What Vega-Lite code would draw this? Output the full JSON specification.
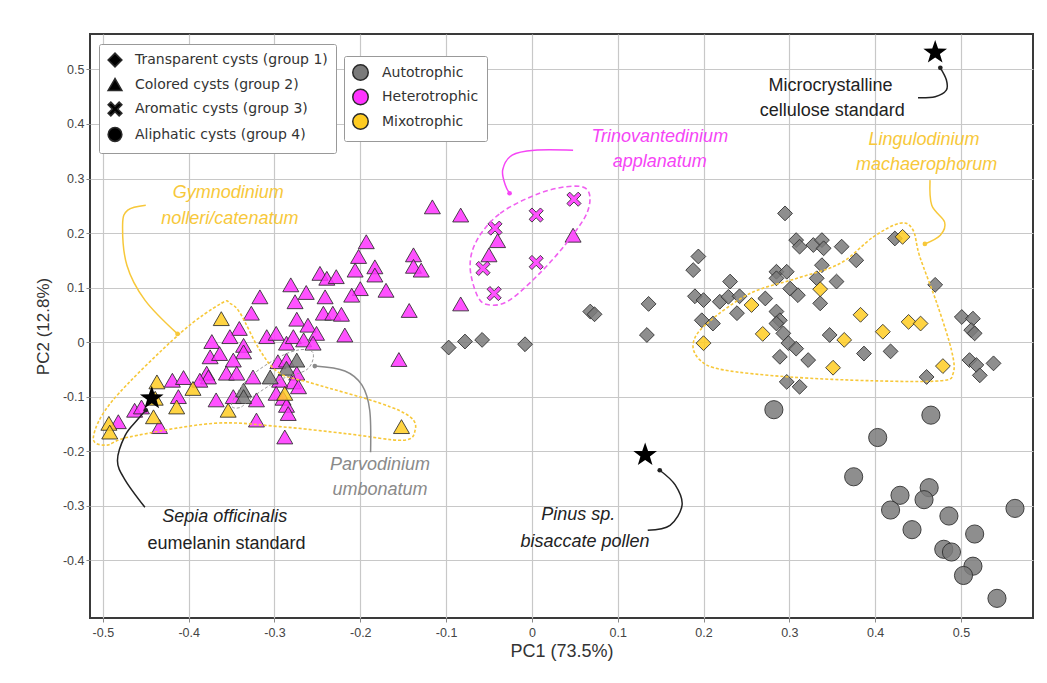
{
  "$schema": "https://vega.github.io/schema/vega-lite/v6.json",
  "width": 943,
  "height": 584,
  "autosize": {"type": "none"},
  "padding": {"left": 90, "top": 34, "right": 14, "bottom": 65},
  "background": "white",
  "config": {
    "view": {"stroke": "#3a3a3a", "strokeWidth": 2},
    "axis": {
      "grid": true, "gridColor": "#c8c8c8", "gridWidth": 1.2, "domain": false,
      "tickColor": "#888", "tickSize": 4, "labelColor": "#444", "labelFontSize": 12.5,
      "labelFont": "Liberation Sans", "titleFont": "Liberation Sans", "titleFontSize": 17,
      "titleFontWeight": "normal", "titleColor": "#333"
    }
  },
  "datasets": {
    "pts": [
      {"x": -0.097, "y": -0.010, "g": "1", "t": "Autotrophic"},
      {"x": -0.078, "y": 0.001, "g": "1", "t": "Autotrophic"},
      {"x": -0.058, "y": 0.004, "g": "1", "t": "Autotrophic"},
      {"x": -0.008, "y": -0.004, "g": "1", "t": "Autotrophic"},
      {"x": 0.068, "y": 0.056, "g": "1", "t": "Autotrophic"},
      {"x": 0.073, "y": 0.051, "g": "1", "t": "Autotrophic"},
      {"x": 0.136, "y": 0.070, "g": "1", "t": "Autotrophic"},
      {"x": 0.134, "y": 0.013, "g": "1", "t": "Autotrophic"},
      {"x": 0.194, "y": 0.157, "g": "1", "t": "Autotrophic"},
      {"x": 0.188, "y": 0.132, "g": "1", "t": "Autotrophic"},
      {"x": 0.190, "y": 0.084, "g": "1", "t": "Autotrophic"},
      {"x": 0.200, "y": 0.077, "g": "1", "t": "Autotrophic"},
      {"x": 0.198, "y": 0.040, "g": "1", "t": "Autotrophic"},
      {"x": 0.211, "y": 0.034, "g": "1", "t": "Autotrophic"},
      {"x": 0.219, "y": 0.074, "g": "1", "t": "Autotrophic"},
      {"x": 0.231, "y": 0.111, "g": "1", "t": "Autotrophic"},
      {"x": 0.229, "y": 0.083, "g": "1", "t": "Autotrophic"},
      {"x": 0.242, "y": 0.084, "g": "1", "t": "Autotrophic"},
      {"x": 0.239, "y": 0.053, "g": "1", "t": "Autotrophic"},
      {"x": 0.272, "y": 0.080, "g": "1", "t": "Autotrophic"},
      {"x": 0.295, "y": 0.236, "g": "1", "t": "Autotrophic"},
      {"x": 0.308, "y": 0.187, "g": "1", "t": "Autotrophic"},
      {"x": 0.312, "y": 0.175, "g": "1", "t": "Autotrophic"},
      {"x": 0.328, "y": 0.178, "g": "1", "t": "Autotrophic"},
      {"x": 0.338, "y": 0.187, "g": "1", "t": "Autotrophic"},
      {"x": 0.340, "y": 0.172, "g": "1", "t": "Autotrophic"},
      {"x": 0.361, "y": 0.175, "g": "1", "t": "Autotrophic"},
      {"x": 0.378, "y": 0.150, "g": "1", "t": "Autotrophic"},
      {"x": 0.285, "y": 0.129, "g": "1", "t": "Autotrophic"},
      {"x": 0.297, "y": 0.129, "g": "1", "t": "Autotrophic"},
      {"x": 0.285, "y": 0.117, "g": "1", "t": "Autotrophic"},
      {"x": 0.338, "y": 0.141, "g": "1", "t": "Autotrophic"},
      {"x": 0.332, "y": 0.117, "g": "1", "t": "Autotrophic"},
      {"x": 0.355, "y": 0.111, "g": "1", "t": "Autotrophic"},
      {"x": 0.301, "y": 0.098, "g": "1", "t": "Autotrophic"},
      {"x": 0.310, "y": 0.086, "g": "1", "t": "Autotrophic"},
      {"x": 0.336, "y": 0.071, "g": "1", "t": "Autotrophic"},
      {"x": 0.285, "y": 0.056, "g": "1", "t": "Autotrophic"},
      {"x": 0.289, "y": 0.040, "g": "1", "t": "Autotrophic"},
      {"x": 0.285, "y": 0.034, "g": "1", "t": "Autotrophic"},
      {"x": 0.293, "y": 0.016, "g": "1", "t": "Autotrophic"},
      {"x": 0.299, "y": -0.002, "g": "1", "t": "Autotrophic"},
      {"x": 0.308, "y": -0.012, "g": "1", "t": "Autotrophic"},
      {"x": 0.289, "y": -0.027, "g": "1", "t": "Autotrophic"},
      {"x": 0.322, "y": -0.033, "g": "1", "t": "Autotrophic"},
      {"x": 0.297, "y": -0.073, "g": "1", "t": "Autotrophic"},
      {"x": 0.312, "y": -0.082, "g": "1", "t": "Autotrophic"},
      {"x": 0.347, "y": 0.013, "g": "1", "t": "Autotrophic"},
      {"x": 0.387, "y": -0.021, "g": "1", "t": "Autotrophic"},
      {"x": 0.418, "y": -0.017, "g": "1", "t": "Autotrophic"},
      {"x": 0.423, "y": 0.190, "g": "1", "t": "Autotrophic"},
      {"x": 0.460, "y": -0.064, "g": "1", "t": "Autotrophic"},
      {"x": 0.470, "y": 0.105, "g": "1", "t": "Autotrophic"},
      {"x": 0.501, "y": 0.046, "g": "1", "t": "Autotrophic"},
      {"x": 0.514, "y": 0.043, "g": "1", "t": "Autotrophic"},
      {"x": 0.512, "y": 0.022, "g": "1", "t": "Autotrophic"},
      {"x": 0.516, "y": 0.016, "g": "1", "t": "Autotrophic"},
      {"x": 0.510, "y": -0.033, "g": "1", "t": "Autotrophic"},
      {"x": 0.518, "y": -0.042, "g": "1", "t": "Autotrophic"},
      {"x": 0.522, "y": -0.061, "g": "1", "t": "Autotrophic"},
      {"x": 0.538, "y": -0.039, "g": "1", "t": "Autotrophic"},
      {"x": 0.200, "y": -0.002, "g": "1", "t": "Mixotrophic"},
      {"x": 0.256, "y": 0.068, "g": "1", "t": "Mixotrophic"},
      {"x": 0.269, "y": 0.015, "g": "1", "t": "Mixotrophic"},
      {"x": 0.336, "y": 0.097, "g": "1", "t": "Mixotrophic"},
      {"x": 0.364, "y": 0.004, "g": "1", "t": "Mixotrophic"},
      {"x": 0.351, "y": -0.047, "g": "1", "t": "Mixotrophic"},
      {"x": 0.383, "y": 0.050, "g": "1", "t": "Mixotrophic"},
      {"x": 0.409, "y": 0.019, "g": "1", "t": "Mixotrophic"},
      {"x": 0.439, "y": 0.037, "g": "1", "t": "Mixotrophic"},
      {"x": 0.453, "y": 0.034, "g": "1", "t": "Mixotrophic"},
      {"x": 0.479, "y": -0.044, "g": "1", "t": "Mixotrophic"},
      {"x": 0.432, "y": 0.193, "g": "1", "t": "Mixotrophic"},
      {"x": 0.282, "y": -0.124, "g": "4", "t": "Autotrophic"},
      {"x": 0.465, "y": -0.134, "g": "4", "t": "Autotrophic"},
      {"x": 0.403, "y": -0.175, "g": "4", "t": "Autotrophic"},
      {"x": 0.375, "y": -0.247, "g": "4", "t": "Autotrophic"},
      {"x": 0.463, "y": -0.267, "g": "4", "t": "Autotrophic"},
      {"x": 0.457, "y": -0.289, "g": "4", "t": "Autotrophic"},
      {"x": 0.429, "y": -0.281, "g": "4", "t": "Autotrophic"},
      {"x": 0.418, "y": -0.308, "g": "4", "t": "Autotrophic"},
      {"x": 0.486, "y": -0.319, "g": "4", "t": "Autotrophic"},
      {"x": 0.563, "y": -0.305, "g": "4", "t": "Autotrophic"},
      {"x": 0.443, "y": -0.344, "g": "4", "t": "Autotrophic"},
      {"x": 0.516, "y": -0.352, "g": "4", "t": "Autotrophic"},
      {"x": 0.480, "y": -0.380, "g": "4", "t": "Autotrophic"},
      {"x": 0.489, "y": -0.385, "g": "4", "t": "Autotrophic"},
      {"x": 0.514, "y": -0.411, "g": "4", "t": "Autotrophic"},
      {"x": 0.503, "y": -0.428, "g": "4", "t": "Autotrophic"},
      {"x": 0.542, "y": -0.470, "g": "4", "t": "Autotrophic"},
      {"x": -0.116, "y": 0.248, "g": "2", "t": "Heterotrophic"},
      {"x": -0.083, "y": 0.233, "g": "2", "t": "Heterotrophic"},
      {"x": -0.040, "y": 0.186, "g": "2", "t": "Heterotrophic"},
      {"x": -0.050, "y": 0.160, "g": "2", "t": "Heterotrophic"},
      {"x": 0.048, "y": 0.196, "g": "2", "t": "Heterotrophic"},
      {"x": -0.138, "y": 0.160, "g": "2", "t": "Heterotrophic"},
      {"x": -0.138, "y": 0.139, "g": "2", "t": "Heterotrophic"},
      {"x": -0.129, "y": 0.132, "g": "2", "t": "Heterotrophic"},
      {"x": -0.083, "y": 0.070, "g": "2", "t": "Heterotrophic"},
      {"x": -0.143, "y": 0.058, "g": "2", "t": "Heterotrophic"},
      {"x": -0.155, "y": -0.032, "g": "2", "t": "Heterotrophic"},
      {"x": -0.193, "y": 0.184, "g": "2", "t": "Heterotrophic"},
      {"x": -0.202, "y": 0.157, "g": "2", "t": "Heterotrophic"},
      {"x": -0.206, "y": 0.132, "g": "2", "t": "Heterotrophic"},
      {"x": -0.183, "y": 0.138, "g": "2", "t": "Heterotrophic"},
      {"x": -0.183, "y": 0.123, "g": "2", "t": "Heterotrophic"},
      {"x": -0.170, "y": 0.095, "g": "2", "t": "Heterotrophic"},
      {"x": -0.200, "y": 0.098, "g": "2", "t": "Heterotrophic"},
      {"x": -0.210, "y": 0.086, "g": "2", "t": "Heterotrophic"},
      {"x": -0.247, "y": 0.126, "g": "2", "t": "Heterotrophic"},
      {"x": -0.239, "y": 0.117, "g": "2", "t": "Heterotrophic"},
      {"x": -0.228, "y": 0.120, "g": "2", "t": "Heterotrophic"},
      {"x": -0.281, "y": 0.105, "g": "2", "t": "Heterotrophic"},
      {"x": -0.263, "y": 0.091, "g": "2", "t": "Heterotrophic"},
      {"x": -0.241, "y": 0.083, "g": "2", "t": "Heterotrophic"},
      {"x": -0.276, "y": 0.074, "g": "2", "t": "Heterotrophic"},
      {"x": -0.317, "y": 0.083, "g": "2", "t": "Heterotrophic"},
      {"x": -0.327, "y": 0.053, "g": "2", "t": "Heterotrophic"},
      {"x": -0.243, "y": 0.053, "g": "2", "t": "Heterotrophic"},
      {"x": -0.232, "y": 0.053, "g": "2", "t": "Heterotrophic"},
      {"x": -0.222, "y": 0.051, "g": "2", "t": "Heterotrophic"},
      {"x": -0.274, "y": 0.042, "g": "2", "t": "Heterotrophic"},
      {"x": -0.261, "y": 0.031, "g": "2", "t": "Heterotrophic"},
      {"x": -0.251, "y": 0.016, "g": "2", "t": "Heterotrophic"},
      {"x": -0.218, "y": 0.013, "g": "2", "t": "Heterotrophic"},
      {"x": -0.341, "y": 0.025, "g": "2", "t": "Heterotrophic"},
      {"x": -0.352, "y": 0.010, "g": "2", "t": "Heterotrophic"},
      {"x": -0.309, "y": 0.010, "g": "2", "t": "Heterotrophic"},
      {"x": -0.298, "y": 0.016, "g": "2", "t": "Heterotrophic"},
      {"x": -0.286, "y": -0.002, "g": "2", "t": "Heterotrophic"},
      {"x": -0.278, "y": 0.010, "g": "2", "t": "Heterotrophic"},
      {"x": -0.266, "y": 0.004, "g": "2", "t": "Heterotrophic"},
      {"x": -0.255, "y": -0.002, "g": "2", "t": "Heterotrophic"},
      {"x": -0.336, "y": -0.006, "g": "2", "t": "Heterotrophic"},
      {"x": -0.336, "y": -0.018, "g": "2", "t": "Heterotrophic"},
      {"x": -0.373, "y": 0.001, "g": "2", "t": "Heterotrophic"},
      {"x": -0.375, "y": -0.027, "g": "2", "t": "Heterotrophic"},
      {"x": -0.364, "y": -0.021, "g": "2", "t": "Heterotrophic"},
      {"x": -0.348, "y": -0.033, "g": "2", "t": "Heterotrophic"},
      {"x": -0.379, "y": -0.057, "g": "2", "t": "Heterotrophic"},
      {"x": -0.377, "y": -0.064, "g": "2", "t": "Heterotrophic"},
      {"x": -0.356, "y": -0.057, "g": "2", "t": "Heterotrophic"},
      {"x": -0.344, "y": -0.057, "g": "2", "t": "Heterotrophic"},
      {"x": -0.325, "y": -0.064, "g": "2", "t": "Heterotrophic"},
      {"x": -0.296, "y": -0.036, "g": "2", "t": "Heterotrophic"},
      {"x": -0.286, "y": -0.033, "g": "2", "t": "Heterotrophic"},
      {"x": -0.274, "y": -0.057, "g": "2", "t": "Heterotrophic"},
      {"x": -0.278, "y": -0.073, "g": "2", "t": "Heterotrophic"},
      {"x": -0.272, "y": -0.082, "g": "2", "t": "Heterotrophic"},
      {"x": -0.294, "y": -0.070, "g": "2", "t": "Heterotrophic"},
      {"x": -0.298, "y": -0.094, "g": "2", "t": "Heterotrophic"},
      {"x": -0.290, "y": -0.103, "g": "2", "t": "Heterotrophic"},
      {"x": -0.286, "y": -0.116, "g": "2", "t": "Heterotrophic"},
      {"x": -0.284, "y": -0.131, "g": "2", "t": "Heterotrophic"},
      {"x": -0.321, "y": -0.106, "g": "2", "t": "Heterotrophic"},
      {"x": -0.348, "y": -0.100, "g": "2", "t": "Heterotrophic"},
      {"x": -0.368, "y": -0.106, "g": "2", "t": "Heterotrophic"},
      {"x": -0.321, "y": -0.143, "g": "2", "t": "Heterotrophic"},
      {"x": -0.288, "y": -0.174, "g": "2", "t": "Heterotrophic"},
      {"x": -0.419, "y": -0.070, "g": "2", "t": "Heterotrophic"},
      {"x": -0.406, "y": -0.065, "g": "2", "t": "Heterotrophic"},
      {"x": -0.387, "y": -0.070, "g": "2", "t": "Heterotrophic"},
      {"x": -0.463, "y": -0.125, "g": "2", "t": "Heterotrophic"},
      {"x": -0.455, "y": -0.119, "g": "2", "t": "Heterotrophic"},
      {"x": -0.434, "y": -0.155, "g": "2", "t": "Heterotrophic"},
      {"x": -0.482, "y": -0.146, "g": "2", "t": "Heterotrophic"},
      {"x": -0.412, "y": -0.100, "g": "2", "t": "Heterotrophic"},
      {"x": -0.274, "y": -0.033, "g": "2", "t": "Autotrophic"},
      {"x": -0.286, "y": -0.048, "g": "2", "t": "Autotrophic"},
      {"x": -0.305, "y": -0.064, "g": "2", "t": "Autotrophic"},
      {"x": -0.336, "y": -0.088, "g": "2", "t": "Autotrophic"},
      {"x": -0.336, "y": -0.100, "g": "2", "t": "Autotrophic"},
      {"x": -0.362, "y": 0.043, "g": "2", "t": "Mixotrophic"},
      {"x": -0.437, "y": -0.073, "g": "2", "t": "Mixotrophic"},
      {"x": -0.395, "y": -0.085, "g": "2", "t": "Mixotrophic"},
      {"x": -0.414, "y": -0.119, "g": "2", "t": "Mixotrophic"},
      {"x": -0.441, "y": -0.137, "g": "2", "t": "Mixotrophic"},
      {"x": -0.439, "y": -0.103, "g": "2", "t": "Mixotrophic"},
      {"x": -0.354, "y": -0.125, "g": "2", "t": "Mixotrophic"},
      {"x": -0.288, "y": -0.094, "g": "2", "t": "Mixotrophic"},
      {"x": -0.493, "y": -0.149, "g": "2", "t": "Mixotrophic"},
      {"x": -0.492, "y": -0.165, "g": "2", "t": "Mixotrophic"},
      {"x": -0.152, "y": -0.155, "g": "2", "t": "Mixotrophic"},
      {"x": 0.049, "y": 0.262, "g": "3", "t": "Heterotrophic"},
      {"x": 0.005, "y": 0.233, "g": "3", "t": "Heterotrophic"},
      {"x": -0.043, "y": 0.209, "g": "3", "t": "Heterotrophic"},
      {"x": 0.005, "y": 0.146, "g": "3", "t": "Heterotrophic"},
      {"x": -0.057, "y": 0.135, "g": "3", "t": "Heterotrophic"},
      {"x": -0.044, "y": 0.089, "g": "3", "t": "Heterotrophic"}
    ],
    "stars": [
      {"x": 0.470, "y": 0.531, "name": "Microcrystalline cellulose standard"},
      {"x": -0.443, "y": -0.103, "name": "Sepia officinalis eumelanin standard"},
      {"x": 0.132, "y": -0.207, "name": "Pinus sp. bisaccate pollen"}
    ],
    "outl": [
      {"who": "gym", "o": 1, "x": -0.362, "y": 0.071},
      {"who": "gym", "o": 2, "x": -0.410, "y": 0.016},
      {"who": "gym", "o": 3, "x": -0.488, "y": -0.106},
      {"who": "gym", "o": 4, "x": -0.511, "y": -0.174},
      {"who": "gym", "o": 5, "x": -0.496, "y": -0.189},
      {"who": "gym", "o": 6, "x": -0.469, "y": -0.174},
      {"who": "gym", "o": 7, "x": -0.371, "y": -0.149},
      {"who": "gym", "o": 8, "x": -0.294, "y": -0.155},
      {"who": "gym", "o": 9, "x": -0.216, "y": -0.168},
      {"who": "gym", "o": 10, "x": -0.150, "y": -0.180},
      {"who": "gym", "o": 11, "x": -0.136, "y": -0.161},
      {"who": "gym", "o": 12, "x": -0.142, "y": -0.137},
      {"who": "gym", "o": 13, "x": -0.177, "y": -0.112},
      {"who": "gym", "o": 14, "x": -0.255, "y": -0.076},
      {"who": "gym", "o": 15, "x": -0.294, "y": -0.057},
      {"who": "gym", "o": 16, "x": -0.317, "y": -0.015},
      {"who": "gym", "o": 17, "x": -0.340, "y": 0.053},
      {"who": "gym", "o": 18, "x": -0.352, "y": 0.071},
      {"who": "lin", "o": 1, "x": 0.188, "y": -0.002},
      {"who": "lin", "o": 2, "x": 0.204, "y": 0.034},
      {"who": "lin", "o": 3, "x": 0.254, "y": 0.089},
      {"who": "lin", "o": 4, "x": 0.309, "y": 0.117},
      {"who": "lin", "o": 5, "x": 0.359, "y": 0.144},
      {"who": "lin", "o": 6, "x": 0.398, "y": 0.193},
      {"who": "lin", "o": 7, "x": 0.429, "y": 0.218},
      {"who": "lin", "o": 8, "x": 0.444, "y": 0.206},
      {"who": "lin", "o": 9, "x": 0.452, "y": 0.157},
      {"who": "lin", "o": 10, "x": 0.472, "y": 0.071},
      {"who": "lin", "o": 11, "x": 0.489, "y": -0.015},
      {"who": "lin", "o": 12, "x": 0.491, "y": -0.057},
      {"who": "lin", "o": 13, "x": 0.476, "y": -0.071},
      {"who": "lin", "o": 14, "x": 0.398, "y": -0.071},
      {"who": "lin", "o": 15, "x": 0.301, "y": -0.064},
      {"who": "lin", "o": 16, "x": 0.223, "y": -0.051},
      {"who": "lin", "o": 17, "x": 0.196, "y": -0.033},
      {"who": "tri", "o": 1, "x": -0.064, "y": 0.187},
      {"who": "tri", "o": 2, "x": -0.037, "y": 0.236},
      {"who": "tri", "o": 3, "x": 0.009, "y": 0.273},
      {"who": "tri", "o": 4, "x": 0.048, "y": 0.286},
      {"who": "tri", "o": 5, "x": 0.066, "y": 0.276},
      {"who": "tri", "o": 6, "x": 0.064, "y": 0.236},
      {"who": "tri", "o": 7, "x": 0.040, "y": 0.181},
      {"who": "tri", "o": 8, "x": 0.009, "y": 0.126},
      {"who": "tri", "o": 9, "x": -0.026, "y": 0.077},
      {"who": "tri", "o": 10, "x": -0.049, "y": 0.068},
      {"who": "tri", "o": 11, "x": -0.063, "y": 0.083},
      {"who": "tri", "o": 12, "x": -0.072, "y": 0.138},
      {"who": "par", "o": 1, "x": -0.350, "y": -0.113},
      {"who": "par", "o": 2, "x": -0.330, "y": -0.066},
      {"who": "par", "o": 3, "x": -0.295, "y": -0.028},
      {"who": "par", "o": 4, "x": -0.270, "y": -0.014},
      {"who": "par", "o": 5, "x": -0.255, "y": -0.020},
      {"who": "par", "o": 6, "x": -0.262, "y": -0.050},
      {"who": "par", "o": 7, "x": -0.295, "y": -0.070},
      {"who": "par", "o": 8, "x": -0.325, "y": -0.100},
      {"who": "par", "o": 9, "x": -0.340, "y": -0.120}
    ],
    "arr": [
      {"who": "blk", "a": "mc", "o": 1, "x": 0.450, "y": 0.448},
      {"who": "blk", "a": "mc", "o": 2, "x": 0.470, "y": 0.450},
      {"who": "blk", "a": "mc", "o": 3, "x": 0.483, "y": 0.462},
      {"who": "blk", "a": "mc", "o": 4, "x": 0.483, "y": 0.481},
      {"who": "blk", "a": "mc", "o": 5, "x": 0.476, "y": 0.503},
      {"who": "lin", "a": "lin", "o": 1, "x": 0.464, "y": 0.297},
      {"who": "lin", "a": "lin", "o": 2, "x": 0.466, "y": 0.251},
      {"who": "lin", "a": "lin", "o": 3, "x": 0.481, "y": 0.220},
      {"who": "lin", "a": "lin", "o": 4, "x": 0.476, "y": 0.196},
      {"who": "lin", "a": "lin", "o": 5, "x": 0.458, "y": 0.180},
      {"who": "tri", "a": "tri", "o": 1, "x": 0.048, "y": 0.352},
      {"who": "tri", "a": "tri", "o": 2, "x": 0.003, "y": 0.352},
      {"who": "tri", "a": "tri", "o": 3, "x": -0.023, "y": 0.343},
      {"who": "tri", "a": "tri", "o": 4, "x": -0.034, "y": 0.316},
      {"who": "tri", "a": "tri", "o": 5, "x": -0.031, "y": 0.288},
      {"who": "tri", "a": "tri", "o": 6, "x": -0.026, "y": 0.273},
      {"who": "gym", "a": "gym", "o": 1, "x": -0.450, "y": 0.251},
      {"who": "gym", "a": "gym", "o": 2, "x": -0.471, "y": 0.242},
      {"who": "gym", "a": "gym", "o": 3, "x": -0.477, "y": 0.215},
      {"who": "gym", "a": "gym", "o": 4, "x": -0.472, "y": 0.141},
      {"who": "gym", "a": "gym", "o": 5, "x": -0.451, "y": 0.077},
      {"who": "gym", "a": "gym", "o": 6, "x": -0.413, "y": 0.015},
      {"who": "par", "a": "par", "o": 1, "x": -0.188, "y": -0.202},
      {"who": "par", "a": "par", "o": 2, "x": -0.189, "y": -0.125},
      {"who": "par", "a": "par", "o": 3, "x": -0.198, "y": -0.079},
      {"who": "par", "a": "par", "o": 4, "x": -0.218, "y": -0.053},
      {"who": "par", "a": "par", "o": 5, "x": -0.253, "y": -0.044},
      {"who": "blk", "a": "sep", "o": 1, "x": -0.451, "y": -0.303},
      {"who": "blk", "a": "sep", "o": 2, "x": -0.474, "y": -0.253},
      {"who": "blk", "a": "sep", "o": 3, "x": -0.483, "y": -0.217},
      {"who": "blk", "a": "sep", "o": 4, "x": -0.474, "y": -0.171},
      {"who": "blk", "a": "sep", "o": 5, "x": -0.460, "y": -0.143},
      {"who": "blk", "a": "sep", "o": 6, "x": -0.450, "y": -0.125},
      {"who": "blk", "a": "pin", "o": 1, "x": 0.135, "y": -0.345},
      {"who": "blk", "a": "pin", "o": 2, "x": 0.161, "y": -0.336},
      {"who": "blk", "a": "pin", "o": 3, "x": 0.175, "y": -0.299},
      {"who": "blk", "a": "pin", "o": 4, "x": 0.167, "y": -0.262},
      {"who": "blk", "a": "pin", "o": 5, "x": 0.149, "y": -0.235}
    ],
    "heads": [
      {"who": "blk", "x": 0.476, "y": 0.503},
      {"who": "lin", "x": 0.458, "y": 0.180},
      {"who": "tri", "x": -0.026, "y": 0.273},
      {"who": "gym", "x": -0.413, "y": 0.015},
      {"who": "par", "x": -0.253, "y": -0.044},
      {"who": "blk", "x": -0.450, "y": -0.125},
      {"who": "blk", "x": 0.149, "y": -0.235}
    ],
    "labels": [
      {"who": "tri", "txt": "Trinovantedinium", "x": 0.149, "y": 0.376, "it": 1},
      {"who": "tri", "txt": "applanatum", "x": 0.149, "y": 0.330, "it": 1},
      {"who": "gym", "txt": "Gymnodinium", "x": -0.354, "y": 0.273, "it": 1},
      {"who": "gym", "txt": "nolleri/catenatum", "x": -0.352, "y": 0.225, "it": 1},
      {"who": "lin", "txt": "Lingulodinium", "x": 0.457, "y": 0.371, "it": 1},
      {"who": "lin", "txt": "machaerophorum", "x": 0.460, "y": 0.325, "it": 1},
      {"who": "par", "txt": "Parvodinium", "x": -0.177, "y": -0.226, "it": 1},
      {"who": "par", "txt": "umbonatum", "x": -0.177, "y": -0.272, "it": 1},
      {"who": "blk", "txt": "Sepia officinalis", "x": -0.358, "y": -0.321, "it": 1},
      {"who": "blk", "txt": "eumelanin standard", "x": -0.356, "y": -0.371, "it": 0},
      {"who": "blk", "txt": "Pinus sp.", "x": 0.054, "y": -0.317, "it": 1},
      {"who": "blk", "txt": "bisaccate pollen", "x": 0.062, "y": -0.367, "it": 1},
      {"who": "blk", "txt": "Microcrystalline", "x": 0.348, "y": 0.470, "it": 0},
      {"who": "blk", "txt": "cellulose standard", "x": 0.350, "y": 0.424, "it": 0}
    ]
  },
  "encoding": {
    "x": {
      "field": "x", "type": "quantitative",
      "scale": {"domain": [-0.515, 0.584], "nice": false, "zero": false},
      "axis": {
        "title": "PC1 (73.5%)",
        "values": [-0.5, -0.4, -0.3, -0.2, -0.1, 0, 0.1, 0.2, 0.3, 0.4, 0.5],
        "labelExpr": "abs(datum.value) < 1e-9 ? '0' : replace(format(datum.value, '.1f'), '\u2212', '-')",
        "labelFont": "Liberation Sans Narrow, Liberation Sans",
        "labelFontSize": 12.5, "labelPadding": 4, "titlePadding": 4,
        "titleFont": "Liberation Sans Narrow, Liberation Sans", "titleFontSize": 18
      }
    },
    "y": {
      "field": "y", "type": "quantitative",
      "scale": {"domain": [-0.506, 0.565], "nice": false, "zero": false},
      "axis": {
        "title": "PC2 (12.8%)",
        "values": [-0.4, -0.3, -0.2, -0.1, 0, 0.1, 0.2, 0.3, 0.4, 0.5],
        "labelExpr": "abs(datum.value) < 1e-9 ? '0' : replace(format(datum.value, '.1f'), '\u2212', '-')",
        "labelPadding": 2, "titlePadding": 10
      }
    }
  },
  "layer": [
    {
      "data": {"name": "pts"},
      "transform": [{"filter": "datum.g == '1'"}],
      "mark": {"type": "point", "size": 220, "filled": true, "fillOpacity": 0.85, "stroke": "#2a2a2a", "strokeWidth": 1, "strokeOpacity": 0.85},
      "encoding": {
        "fill": {
          "field": "t", "type": "nominal",
          "scale": {"domain": ["Autotrophic", "Heterotrophic", "Mixotrophic"], "range": ["#7a7a7a", "#ff33ff", "#ffcc22"]},
          "legend": {
            "orient": "none", "legendX": 254, "legendY": 22, "title": null,
            "symbolType": "circle", "symbolSize": 240, "padding": 8, "rowPadding": 1.5,
            "labelOffset": 13, "labelFont": "DejaVu Sans", "labelFontSize": 14, "labelColor": "#333", "labelLimit": 300,
            "strokeColor": "#999", "fillColor": "white", "cornerRadius": 2,
            "encode": {"symbols": {"update": {"stroke": {"value": "#222"}, "strokeWidth": {"value": 1.5}, "opacity": {"value": 1}, "fillOpacity": {"value": 1}, "shape": {"value": "circle"}}}}
          }
        },
        "shape": {
          "field": "g", "type": "nominal",
          "scale": {"domain": ["1", "2", "3", "4"], "range": ["diamond", "triangle-up", "M-1,-0.6L-0.6,-1L0,-0.4L0.6,-1L1,-0.6L0.4,0L1,0.6L0.6,1L0,0.4L-0.6,1L-1,0.6L-0.4,0Z", "circle"]},
          "legend": {
            "orient": "none", "legendX": 9, "legendY": 10, "title": null,
            "labelExpr": "{'1': 'Transparent cysts (group 1)', '2': 'Colored cysts (group 2)', '3': 'Aromatic cysts (group 3)', '4': 'Aliphatic cysts (group 4)'}[datum.label]",
            "padding": 8, "rowPadding": 5.5, "labelOffset": 12, "labelFont": "DejaVu Sans", "labelFontSize": 14, "labelColor": "#333", "labelLimit": 300,
            "strokeColor": "#999", "fillColor": "white", "cornerRadius": 2, "symbolSize": 190,
            "encode": {"symbols": {"update": {"fill": {"value": "#000"}, "stroke": {"value": "#000"}, "strokeWidth": {"value": 0}, "opacity": {"value": 1}, "fillOpacity": {"value": 1}}}}
          }
        }
      }
    },
    {
      "data": {"name": "pts"},
      "transform": [{"filter": "datum.g == '4'"}],
      "mark": {"type": "point", "size": 330, "filled": true, "fillOpacity": 0.85, "stroke": "#2a2a2a", "strokeWidth": 1, "strokeOpacity": 0.85},
      "encoding": {"fill": {"field": "t", "type": "nominal"}, "shape": {"field": "g", "type": "nominal"}}
    },
    {
      "data": {"name": "pts"},
      "transform": [{"filter": "datum.g == '2'"}],
      "mark": {"type": "point", "size": 256, "filled": true, "fillOpacity": 0.85, "stroke": "#2a2a2a", "strokeWidth": 1, "strokeOpacity": 0.85},
      "encoding": {"fill": {"field": "t", "type": "nominal"}, "shape": {"field": "g", "type": "nominal"}}
    },
    {
      "data": {"name": "pts"},
      "transform": [{"filter": "datum.g == '3'"}],
      "mark": {"type": "point", "size": 200, "filled": true, "fillOpacity": 0.85, "stroke": "#2a2a2a", "strokeWidth": 1, "strokeOpacity": 0.85},
      "encoding": {"fill": {"field": "t", "type": "nominal"}, "shape": {"field": "g", "type": "nominal"}}
    },
    {
      "data": {"name": "outl"},
      "transform": [{"filter": "datum.who == 'gym' || datum.who == 'lin'"}],
      "mark": {"type": "line", "interpolate": "cardinal-closed", "strokeDash": [3, 2], "strokeWidth": 1.6, "color": "#f7c83a"},
      "encoding": {"order": {"field": "o", "type": "quantitative"}, "detail": {"field": "who", "type": "nominal"}}
    },
    {
      "data": {"name": "outl"},
      "transform": [{"filter": "datum.who == 'tri'"}],
      "mark": {"type": "line", "interpolate": "cardinal-closed", "strokeDash": [5, 3], "strokeWidth": 1.6, "color": "#f060f0"},
      "encoding": {"order": {"field": "o", "type": "quantitative"}, "detail": {"field": "who", "type": "nominal"}}
    },
    {
      "data": {"name": "outl"},
      "transform": [{"filter": "datum.who == 'par'"}],
      "mark": {"type": "line", "interpolate": "cardinal-closed", "strokeDash": [3, 2], "strokeWidth": 1, "color": "#999999"},
      "encoding": {"order": {"field": "o", "type": "quantitative"}, "detail": {"field": "who", "type": "nominal"}}
    },
    {
      "data": {"name": "arr"},
      "mark": {"type": "line", "interpolate": "cardinal", "strokeWidth": 1.5},
      "encoding": {
        "order": {"field": "o", "type": "quantitative"},
        "detail": {"field": "a", "type": "nominal"},
        "color": {"field": "who", "type": "nominal", "scale": {"domain": ["gym", "lin", "tri", "par", "blk"], "range": ["#f7c83a", "#f7c83a", "#f545f5", "#8a8a8a", "#222222"]}, "legend": null}
      }
    },
    {
      "data": {"name": "heads"},
      "mark": {"type": "point", "filled": true, "size": 22, "opacity": 1, "strokeWidth": 0, "shape": "circle"},
      "encoding": {
        "color": {"field": "who", "type": "nominal", "legend": null}
      }
    },
    {
      "data": {"name": "stars"},
      "mark": {"type": "point", "filled": true, "color": "#000", "opacity": 1, "strokeWidth": 0, "size": 620, "shape": "M0,-1L0.235,-0.324L0.951,-0.309L0.38,0.124L0.588,0.809L0,0.4L-0.588,0.809L-0.38,0.124L-0.951,-0.309L-0.235,-0.324Z"},
      "encoding": {}
    },
    {
      "data": {"name": "labels"},
      "transform": [{"filter": "datum.it == 1"}],
      "mark": {"type": "text", "font": "Liberation Sans", "fontSize": 18, "fontStyle": "italic", "align": "center", "baseline": "middle"},
      "encoding": {
        "text": {"field": "txt"},
        "color": {"field": "who", "type": "nominal", "legend": null}
      }
    },
    {
      "data": {"name": "labels"},
      "transform": [{"filter": "datum.it == 0"}],
      "mark": {"type": "text", "font": "Liberation Sans", "fontSize": 18, "align": "center", "baseline": "middle"},
      "encoding": {
        "text": {"field": "txt"},
        "color": {"field": "who", "type": "nominal", "legend": null}
      }
    }
  ]
}
